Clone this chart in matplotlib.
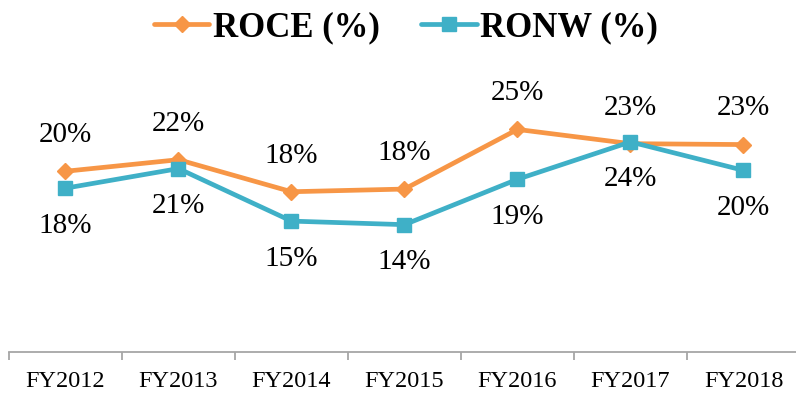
import numpy as np
import matplotlib.pyplot as plt

plt.rcParams['font.family'] = ['Liberation Serif', 'DejaVu Serif']

years = ['FY2012', 'FY2013', 'FY2014', 'FY2015', 'FY2016', 'FY2017', 'FY2018']
roce = [20.3, 21.6, 18.0, 18.3, 25.0, 23.4, 23.3]
ronw = [18.4, 20.6, 14.7, 14.3, 19.4, 23.6, 20.4]

orange = '#F79646'
teal = '#3FB0C7'

fig = plt.figure(figsize=(7.96, 3.95), dpi=100)
ax = fig.add_axes([0.0113, 0.109, 0.9937, 0.676])

x = np.arange(len(years))
ax.plot(x, roce, color=orange, lw=3.4, marker='D', ms=8.5, label='ROCE (%)',
        solid_capstyle='round', zorder=3)
ax.plot(x, ronw, color=teal, lw=3.4, marker='s', ms=9.5, label='RONW (%)',
        solid_capstyle='round', zorder=4)

# ROCE labels above the points, RONW labels below
for xi, v in zip(x, roce):
    ax.annotate(f'{v:.0f}%', (xi, v), xytext=(0, 26), textcoords='offset points',
                ha='center', va='center', fontsize=21)
for xi, v in zip(x, ronw):
    ax.annotate(f'{v:.0f}%', (xi, v), xytext=(0, -27), textcoords='offset points',
                ha='center', va='center', fontsize=21)

ax.set_xlim(-0.5, len(years) - 0.5)
ax.set_ylim(0, 30)
ax.set_xticks(x)
ax.set_xticklabels(years, fontsize=17.5)
ax.set_xticks(np.arange(-0.5, len(years)), minor=True)
ax.tick_params(axis='x', which='major', length=0, pad=14)
ax.tick_params(axis='x', which='minor', length=6, width=1.3, color='#A6A6A6')
ax.set_yticks([])
for s in ['top', 'right', 'left']:
    ax.spines[s].set_visible(False)
ax.spines['bottom'].set_color('#A6A6A6')
ax.spines['bottom'].set_linewidth(1.3)

fig.legend(loc='upper center', bbox_to_anchor=(0.51, 1.05), ncol=2, frameon=False,
           prop={'weight': 'bold', 'size': 25}, handlelength=1.6,
           handletextpad=0.1, columnspacing=1.2)

fig.savefig('out.png', dpi=100)
